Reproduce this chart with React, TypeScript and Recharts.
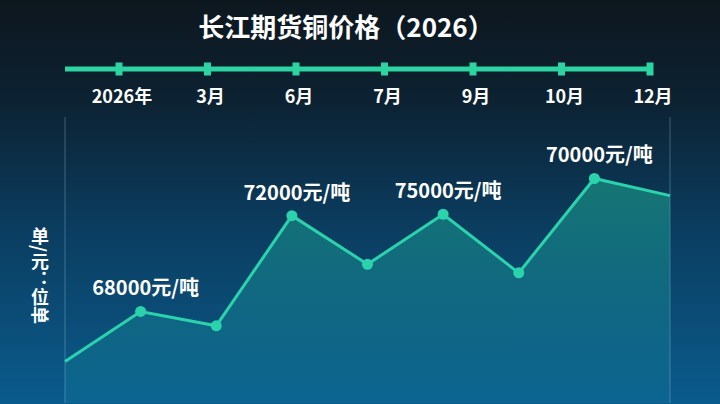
import { AreaChart, Area, LineChart, Line, XAxis, YAxis, CartesianGrid, LabelList } from 'recharts'

const timelineLabels = ['2026年', '3月', '6月', '7月', '9月', '10月', '12月']
const points = ['1', '2', '3', '4', '5', '6', '7', '8', '9']
const prices = [62900, 66400, 65400, 73100, 69700, 73200, 69100, 75700, 74500]
const notes = ['', '68000元/吨', '', '72000元/吨', '', '75000元/吨', '', '70000元/吨', '']

const timelineData = timelineLabels.map((label) => ({ label, v: 0 }))
const data = points.map((p, i) => ({ p, price: prices[i], note: notes[i] }))

const FONT = '"Noto Sans CJK SC", "Noto Sans", sans-serif'
const TEAL = '#2bd3ac'
const BAR = '#2cd4a2'

function TimelineTick(props: any) {
  const { x, y, payload } = props
  return (
    <g>
      <rect x={x - 3.5} y={y - 6.5} width={7} height={13} fill={BAR} />
      <text x={x + 3} y={y + 34} textAnchor="middle" fill="#ffffff" fontSize={18} fontWeight={600} fontFamily={FONT}>
        {payload.value}
      </text>
    </g>
  )
}

function PointDot(props: any) {
  const { cx, cy, index } = props
  if (index === 0 || index === data.length - 1) return <g key={index} />
  return <circle key={index} cx={cx} cy={cy} r={5.5} fill={TEAL} />
}

function NoteLabel(props: any) {
  const { x, y, value } = props
  if (!value) return null
  return (
    <text x={x + 5} y={y - 16} textAnchor="middle" fill="#ffffff" fontSize={20} fontWeight={700} fontFamily={FONT}>
      {value}
    </text>
  )
}

export default function App() {
  return (
    <div
      style={{
        position: 'absolute',
        left: 0,
        top: 0,
        width: 720,
        height: 404,
        overflow: 'hidden',
        fontFamily: FONT,
        background: 'linear-gradient(180deg, #0d171e 0%, #0c2232 25%, #0b3c5e 55%, #0a5b8d 100%)',
      }}
    >
      <div
        style={{
          position: 'absolute',
          left: 0,
          top: 8,
          width: 692,
          textAlign: 'center',
          color: '#ffffff',
          fontSize: 26,
          fontWeight: 700,
          lineHeight: '36px',
        }}
      >
        长江期货铜价格（2026）
      </div>

      <div style={{ position: 'absolute', left: 0, top: 0 }}>
        <LineChart width={720} height={110} data={timelineData} margin={{ top: 0, right: 70, bottom: 0, left: 65 }}>
          <XAxis
            dataKey="label"
            scale="point"
            padding={{ left: 54, right: 0 }}
            height={41}
            axisLine={{ stroke: BAR, strokeWidth: 5 }}
            tickLine={false}
            tickSize={0}
            tickMargin={0}
            interval={0}
            tick={<TimelineTick />}
          />
          <YAxis hide domain={[0, 1]} />
          <Line dataKey="v" stroke="none" dot={false} isAnimationActive={false} />
        </LineChart>
      </div>

      <div style={{ position: 'absolute', left: 0, top: 0 }}>
        <AreaChart width={720} height={404} data={data} margin={{ top: 117, right: 50, bottom: 0, left: 65 }}>
          <defs>
            <linearGradient id="copperFill" x1="0" y1="0" x2="0" y2="1">
              <stop offset="0%" stopColor="#22c8a0" stopOpacity={0.75} />
              <stop offset="100%" stopColor="#18a8b0" stopOpacity={0.22} />
            </linearGradient>
          </defs>
          <CartesianGrid horizontal={false} stroke="rgba(190,225,240,0.3)" strokeWidth={1} />
          <XAxis
            dataKey="p"
            scale="point"
            padding={{ left: 0, right: 0 }}
            interval={1}
            height={1}
            tick={false}
            tickLine={false}
            axisLine={false}
          />
          <YAxis hide domain={[60000, 80000]} />
          <Area
            type="linear"
            dataKey="price"
            stroke={TEAL}
            strokeWidth={3}
            fill="url(#copperFill)"
            dot={<PointDot />}
            activeDot={false}
            isAnimationActive={false}
          >
            <LabelList dataKey="note" content={<NoteLabel />} />
          </Area>
        </AreaChart>
      </div>

      <div
        style={{
          position: 'absolute',
          left: 30,
          top: 227,
          writingMode: 'vertical-rl',
          color: '#ffffff',
          fontSize: 18,
          fontWeight: 700,
          lineHeight: '20px',
        }}
      >
        单/元：位<span style={{ display: 'inline-block', transform: 'rotate(90deg)' }}>单</span>
      </div>
    </div>
  )
}
